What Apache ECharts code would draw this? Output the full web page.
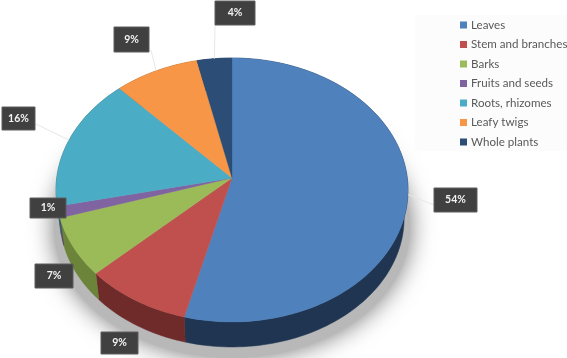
<!DOCTYPE html>
<html>
<head>
<meta charset="utf-8">
<style>html,body{margin:0;padding:0;background:#fff}#c{width:567px;height:358px}</style>
<script src="https://cdn.jsdelivr.net/npm/echarts@6/dist/echarts.min.js"></script>
</head>
<body>
<div id="c"></div>
<script>
var categories = ['Leaves', 'Stem and branches', 'Barks', 'Fruits and seeds', 'Roots, rhizomes', 'Leafy twigs', 'Whole plants'];
var shares = [54, 9, 7.2, 1.4, 16.4, 8.5, 3.5];
var topColors = ['#4f81bd', '#c0504d', '#9bbb59', '#8064a2', '#4bacc6', '#f79646', '#2c4d75'];
var wallColors = ['#1f3551', '#6e2b2a', '#6c8439', '#4d3c63', '#2c6a7c', '#a0602a', '#1a2f49'];

// Label boxes in pixels: left, top, right, bottom, then the leader's end on the box
var labelBoxes = [
  [434, 188, 477, 212, 434, 205],
  [101, 332, 138, 354, null, null],
  [35, 264, 73, 288, null, null],
  [30, 198, 66, 218, null, null],
  [2, 107, 35, 130, 36, 124],
  [114, 27, 149, 52, 151, 50],
  [215, 1, 255, 25, 215, 25]
];

var total = shares.reduce(function (a, b) { return a + b; }, 0);
var P = 0.0909;           // perspective tilt of the disc
var SQ = Math.sqrt(1 - P * P);
var LOW_SCALE_X = 0.978, LOW_SCALE_Y = 0.977, LOW_SHIFT_Y = 0.212; // underside of the disc

// Turn fraction (clockwise from the top) -> axis coordinates on the top face
function project(t) {
  var a = t * 2 * Math.PI, u = Math.sin(a), v = -Math.cos(a), w = 1 - P * v;
  return [SQ * u / w, (v / w) * (1 - P * P) - P];
}
function projectLow(t) {
  var p = project(t);
  return [p[0] * LOW_SCALE_X, p[1] * LOW_SCALE_Y + LOW_SHIFT_Y];
}
function arcPoints(api, fn, s, e) {
  var n = Math.max(2, Math.ceil((e - s) * 240)), pts = [];
  for (var i = 0; i <= n; i++) pts.push(api.coord(fn(s + (e - s) * i / n)));
  return pts;
}
var apexAxis = [0, -P];

var cum = 0;
var sliceSeries = categories.map(function (name, i) {
  var start = cum / total; cum += shares[i]; var end = cum / total;
  return {
    type: 'custom', name: name, coordinateSystem: 'cartesian2d', xAxisIndex: 0, yAxisIndex: 0,
    itemStyle: { color: topColors[i] }, clip: false, silent: true,
    data: [{ name: name, value: [start, end, shares[i]] }],
    renderItem: function (params, api) {
      var s = api.value(0), e = api.value(1);
      var rim = arcPoints(api, project, s, e);
      var low = arcPoints(api, projectLow, s, e).reverse();
      var apex = api.coord(apexAxis);
      return {
        type: 'group',
        children: [
          { type: 'polygon', z2: 1, shape: { points: rim.concat(low) },
            style: { fill: wallColors[i], stroke: wallColors[i], lineWidth: 0.5 } },
          { type: 'polygon', z2: 2, shape: { points: [apex].concat(rim) },
            style: { fill: topColors[i], stroke: topColors[i], lineWidth: 0.3 } }
        ]
      };
    }
  };
});

var shadowSeries = {
  type: 'custom', name: 'shadow', coordinateSystem: 'cartesian2d', xAxisIndex: 0, yAxisIndex: 0,
  z: 1, clip: false, silent: true, data: [[0, 1]],
  renderItem: function (params, api) {
    var pts = arcPoints(api, function (t) {
      var p = project(t);
      return [p[0] * 1.012, p[1] * 0.99 + 0.28];
    }, 0, 1);
    return {
      type: 'polygon',
      shape: { points: pts },
      style: { fill: '#b8b8b8', shadowColor: 'rgba(115,115,115,1)', shadowBlur: 24, shadowOffsetX: 0, shadowOffsetY: 0 }
    };
  }
};

var c2 = 0;
var labelData = shares.map(function (v, i) {
  var mid = (c2 + v / 2) / total; c2 += v;
  return { name: categories[i], value: [mid, v, i] };
});
var labelSeries = {
  type: 'custom', name: 'labels', coordinateSystem: 'cartesian2d', xAxisIndex: 0, yAxisIndex: 0,
  z: 5, clip: false, silent: true, data: labelData,
  renderItem: function (params, api) {
    var mid = api.value(0), v = api.value(1), b = labelBoxes[api.value(2)];
    var kids = [];
    if (b[4] !== null) {
      var p = api.coord(project(mid));
      kids.push({ type: 'line', shape: { x1: p[0], y1: p[1], x2: b[4], y2: b[5] },
        style: { stroke: '#e8e8e8', lineWidth: 1 } });
    }
    kids.push({ type: 'rect', shape: { x: b[0], y: b[1], width: b[2] - b[0], height: b[3] - b[1] },
      style: { fill: '#404040', stroke: '#5c5c5c', lineWidth: 1 } });
    kids.push({ type: 'text', style: { x: (b[0] + b[2]) / 2, y: (b[1] + b[3]) / 2, text: Math.round(v) + '%',
      fill: '#f2f2f2', font: 'bold 10.5px Lato, sans-serif', align: 'center', verticalAlign: 'middle' } });
    return { type: 'group', children: kids };
  }
};

var chart = echarts.init(document.getElementById('c'), null, { renderer: 'canvas' });
chart.setOption({
  animation: false,
  backgroundColor: '#ffffff',
  grid: { left: 56, width: 352, top: 58, height: 264 },
  xAxis: { type: 'value', min: -1, max: 1, show: false },
  yAxis: { type: 'value', min: -1, max: 1, inverse: true, show: false },
  legend: {
    data: categories, orient: 'vertical', left: 415, top: 15, width: 152, height: 138,
    padding: [4, 0, 3, 45], itemWidth: 7, itemHeight: 7, itemGap: 7.5, icon: 'rect',
    backgroundColor: '#fcfcfc',
    selectedMode: false,
    textStyle: { color: '#595959', fontSize: 11.6, fontFamily: 'Lato, sans-serif', padding: [0, 0, 0, -1] },
    itemStyle: { borderWidth: 0 }
  },
  series: [shadowSeries].concat(sliceSeries, [labelSeries])
});
</script>
</body>
</html>
